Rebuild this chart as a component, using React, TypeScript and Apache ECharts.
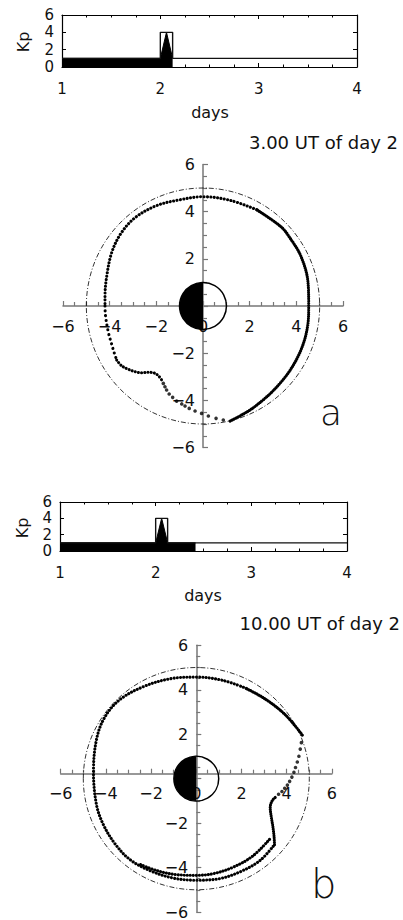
import { useEffect, useRef } from 'react';
import * as echarts from 'echarts';

// ---------- Kp panels (days vs Kp) ----------
const dayTicks = [1, 2, 3, 4];
const kpTicks = [0, 2, 4, 6];
const kpStepDays = [1, 2, 2, 2.125, 2.125, 4];
const kpStepValues = [1, 1, 4, 4, 1, 1];
const kpFillDaysA = [1, 2, 2.0625, 2.125];
const kpFillValuesA = [1, 1, 4, 1];
const kpFillDaysB = [1, 2, 2.0625, 2.125, 2.4167];
const kpFillValuesB = [1, 1, 4, 1, 1];

const titleA = '3.00 UT of day 2';
const titleB = '10.00 UT of day 2';

// ---------- equatorial plane plots ----------
const planeTicks = [-6, -4, -2, 0, 2, 4, 6];
const ringCenter = [0, 0];
const dashedRadius = 5;
const earthRadius = 1;

// panel a
const rightA = [[1.16, -4.88], [2.2, -4.28], [3.35, -3.22], [4.1, -2.08], [4.48, -0.88], [4.53, 0], [4.5, 1.0], [4.2, 2.1], [3.75, 2.85], [3.35, 3.35], [2.3, 4.08]];
const topA = [[2.3, 4.08], [1.15, 4.48], [0, 4.63], [-1.0, 4.5], [-2.0, 4.25], [-2.9, 3.75], [-3.5, 3.1], [-3.9, 2.3], [-4.12, 1.3], [-4.2, 0.4], [-4.2, 0]];
const lowLeftA = [[-4.2, 0], [-4.18, -0.4], [-4.06, -1.1], [-3.92, -1.6], [-3.8, -2.0], [-3.7, -2.29]];
const bumpA = [[-3.7, -2.29], [-3.49, -2.53], [-3.2, -2.68], [-2.92, -2.78], [-2.63, -2.83], [-2.35, -2.81], [-2.06, -2.85], [-1.87, -3.0], [-1.77, -3.14]];
const sparseA = [[-1.7, -3.28], [-1.63, -3.42], [-1.56, -3.56], [-1.45, -3.73], [-1.3, -3.87], [-1.13, -4.03], [-0.91, -4.15], [-0.77, -4.24], [-0.59, -4.34], [-0.34, -4.45], [-0.06, -4.55], [0.23, -4.66], [0.56, -4.76], [0.87, -4.83]];

// panel b
const topRightB = [[4.69, 1.96], [3.98, 2.83], [3.1, 3.55], [2.21, 4.06]];
const outerB = [[2.21, 4.06], [1.18, 4.42], [0, 4.57], [-1.18, 4.49], [-2.36, 4.13], [-3.39, 3.55], [-4.06, 2.75], [-4.42, 1.74], [-4.55, 0.3], [-4.42, -1.16], [-4.13, -2.03], [-3.62, -2.9], [-2.95, -3.63], [-2.07, -4.13], [-1.04, -4.47], [0, -4.57], [1.03, -4.5], [1.92, -4.2], [2.8, -3.7], [3.46, -2.97]];
const wiggleB = [[3.46, -2.97], [3.44, -2.6], [3.39, -2.17], [3.32, -1.74], [3.27, -1.3], [3.36, -0.99], [3.5, -0.84]];
const innerB = [[3.24, -2.73], [2.5, -3.48], [1.62, -3.99], [0.73, -4.28], [0, -4.35], [-0.88, -4.32], [-1.77, -4.13], [-2.5, -3.85]];
const sparseB = [[3.64, -0.7], [3.79, -0.58], [3.91, -0.43], [4.03, -0.29], [4.13, -0.12], [4.23, 0.07], [4.32, 0.29], [4.39, 0.5], [4.47, 0.75], [4.54, 1.01], [4.6, 1.33], [4.65, 1.62]];

const FONT = '"DejaVu Sans", "Liberation Sans", sans-serif';
const zip = (xs: number[], ys: number[]) => xs.map((x, i) => [x, ys[i]]);
const minus = (v: number) => String(v).replace('-', '\u2212');

function kpXAxes(gridIndex: number) {
  const base = {
    type: 'value', gridIndex, min: dayTicks[0], max: dayTicks[dayTicks.length - 1], interval: 1,
    axisLine: { show: true, onZero: false, lineStyle: { color: '#000', width: 1.2 } },
    axisTick: { show: true, inside: true, length: 4, lineStyle: { color: '#000' } },
    minorTick: { show: true, splitNumber: 4, length: 2.5, lineStyle: { color: '#000' } },
    splitLine: { show: false },
  };
  return [
    { ...base, position: 'bottom', axisLabel: { show: true, margin: 14, fontSize: 15, color: '#111', fontFamily: FONT } },
    { ...base, position: 'top', axisLabel: { show: false } },
  ];
}
function kpYAxes(gridIndex: number) {
  const base = {
    type: 'value', gridIndex, min: kpTicks[0], max: kpTicks[kpTicks.length - 1], interval: 2,
    axisLine: { show: true, onZero: false, lineStyle: { color: '#000', width: 1.2 } },
    axisTick: { show: true, inside: true, length: 4, lineStyle: { color: '#000' } },
    splitLine: { show: false },
  };
  return [
    { ...base, position: 'left', axisLabel: { show: true, margin: 8, fontSize: 15, color: '#111', fontFamily: FONT } },
    { ...base, position: 'right', axisLabel: { show: false } },
  ];
}
function planeXAxis(gridIndex: number, offset: number) {
  return {
    type: 'value', gridIndex, position: 'bottom', offset, min: planeTicks[0], max: planeTicks[planeTicks.length - 1], interval: 2,
    axisLine: { show: true, onZero: false, lineStyle: { color: '#777', width: 1.5 } },
    axisTick: { show: true, inside: true, length: 5, lineStyle: { color: '#777', width: 1.2 } },
    minorTick: { show: true, splitNumber: 4, length: 4, lineStyle: { color: '#777', width: 1.2 } },
    splitLine: { show: false },
    axisLabel: { margin: 12, fontSize: 16, color: '#111', fontFamily: FONT, formatter: (v: number) => minus(v) },
  };
}
function planeYAxis(gridIndex: number, offset: number) {
  return {
    type: 'value', gridIndex, position: 'left', offset, min: planeTicks[0], max: planeTicks[planeTicks.length - 1], interval: 2,
    axisLine: { show: true, onZero: false, lineStyle: { color: '#777', width: 1.5 } },
    axisTick: { show: true, inside: true, length: 5, lineStyle: { color: '#777', width: 1.2 } },
    minorTick: { show: true, splitNumber: 4, length: 4, lineStyle: { color: '#777', width: 1.2 } },
    splitLine: { show: false },
    axisLabel: { margin: 8, fontSize: 16, color: '#111', fontFamily: FONT, formatter: (v: number) => (v === 0 ? '' : minus(v)) },
  };
}

function kpSeries(axisIndex: number, fillDays: number[], fillValues: number[]) {
  return [
    {
      type: 'line', xAxisIndex: axisIndex, yAxisIndex: axisIndex, data: zip(fillDays, fillValues),
      showSymbol: false, symbol: 'none', lineStyle: { color: '#000', width: 1 },
      areaStyle: { color: '#000', opacity: 1 }, z: 3,
    },
    {
      type: 'line', xAxisIndex: axisIndex, yAxisIndex: axisIndex, data: zip(kpStepDays, kpStepValues),
      showSymbol: false, symbol: 'none', lineStyle: { color: '#111', width: 1.4 }, z: 4,
    },
  ];
}

const ringRender = (_params: any, api: any) => {
  const c = api.coord([api.value(0), api.value(1)]);
  const so = api.size([api.value(2), api.value(2)]);
  const se = api.size([api.value(3), api.value(3)]);
  const re = (se[0] + se[1]) / 2;
  return {
    type: 'group',
    children: [
      { type: 'ellipse', shape: { cx: c[0], cy: c[1], rx: so[0], ry: so[1] }, style: { fill: 'none', stroke: '#000', lineWidth: 0.8, lineDash: [5, 2, 1, 2] } },
      { type: 'sector', shape: { cx: c[0], cy: c[1], r: re, r0: 0, startAngle: Math.PI / 2, endAngle: (Math.PI * 3) / 2, clockwise: true }, style: { fill: '#000' } },
      { type: 'circle', shape: { cx: c[0], cy: c[1], r: re }, style: { fill: 'none', stroke: '#000', lineWidth: 1.5 } },
    ],
  };
};

function dotted(axisIndex: number, data: number[][], period: number) {
  return {
    type: 'line', xAxisIndex: axisIndex, yAxisIndex: axisIndex, data, smooth: 0.35,
    showSymbol: false, symbol: 'none',
    lineStyle: { color: '#000', width: 3.1, type: [0.01, period], cap: 'round' }, z: 5,
  };
}
function dots(axisIndex: number, data: number[][]) {
  return {
    type: 'scatter', xAxisIndex: axisIndex, yAxisIndex: axisIndex, data, symbolSize: 3.6,
    itemStyle: { color: '#000' }, z: 5,
  };
}

function txt(x: number, y: number, text: string, size: number, align: string, extra: any = {}) {
  return {
    type: 'text', x, y, ...extra,
    style: { text, x: 0, y: 0, fill: '#111', font: `${extra.weight || 'normal'} ${size}px ${FONT}`, textAlign: align, textVerticalAlign: 'middle', align, verticalAlign: 'middle' },
  };
}

export default function App() {
  const ref = useRef<HTMLDivElement>(null);
  useEffect(() => {
    if (!ref.current) return;
    const chart = echarts.init(ref.current, null, { renderer: 'svg' });
    const xA = kpXAxes(0), yA = kpYAxes(0), xB = kpXAxes(2), yB = kpYAxes(2);
    chart.setOption({
      animation: false,
      backgroundColor: '#fff',
      grid: [
        { left: 62, top: 15, width: 295, height: 52 },
        { left: 63, top: 164.4, width: 280, height: 283.2 },
        { left: 60, top: 502, width: 287, height: 49 },
        { left: 60.7, top: 645.3, width: 271.2, height: 276.6 },
      ],
      xAxis: [xA[0], xA[1], planeXAxis(1, -141.6), xB[0], xB[1], planeXAxis(3, -138.3)],
      yAxis: [yA[0], yA[1], planeYAxis(1, -140), yB[0], yB[1], planeYAxis(3, -135.6)],
      series: [
        ...kpSeries(0, kpFillDaysA, kpFillValuesA),
        { type: 'custom', xAxisIndex: 2, yAxisIndex: 2, renderItem: ringRender, data: [[ringCenter[0], ringCenter[1], dashedRadius, earthRadius]], z: 2, silent: true },
        dotted(2, rightA, 2.2),
        dotted(2, topA, 3.4),
        dotted(2, lowLeftA, 4.8),
        dotted(2, bumpA, 3.2),
        dots(2, sparseA),
        ...kpSeries(3, kpFillDaysB, kpFillValuesB),
        { type: 'custom', xAxisIndex: 5, yAxisIndex: 5, renderItem: ringRender, data: [[ringCenter[0], ringCenter[1], dashedRadius, earthRadius]], z: 2, silent: true },
        dotted(5, topRightB, 2.2),
        dotted(5, outerB, 3.2),
        dotted(5, wiggleB, 2.2),
        dotted(5, innerB, 3.0),
        dots(5, sparseB),
      ],
      graphic: [
        txt(23, 42, 'Kp', 16, 'center', { rotation: Math.PI / 2 }),
        txt(210, 112, 'days', 16, 'center'),
        txt(398, 142, titleA, 18, 'right'),
        txt(320, 412, 'a', 36, 'left', { weight: 200 }),
        txt(22, 528, 'Kp', 16, 'center', { rotation: Math.PI / 2 }),
        txt(203, 595, 'days', 16, 'center'),
        txt(400, 623, titleB, 18, 'right'),
        txt(311, 884, 'b', 40, 'left', { weight: 200 }),
      ],
    });
    return () => chart.dispose();
  }, []);
  return <div ref={ref} style={{ position: 'absolute', left: 0, top: 0, width: 403, height: 920, background: '#fff' }} />;
}
